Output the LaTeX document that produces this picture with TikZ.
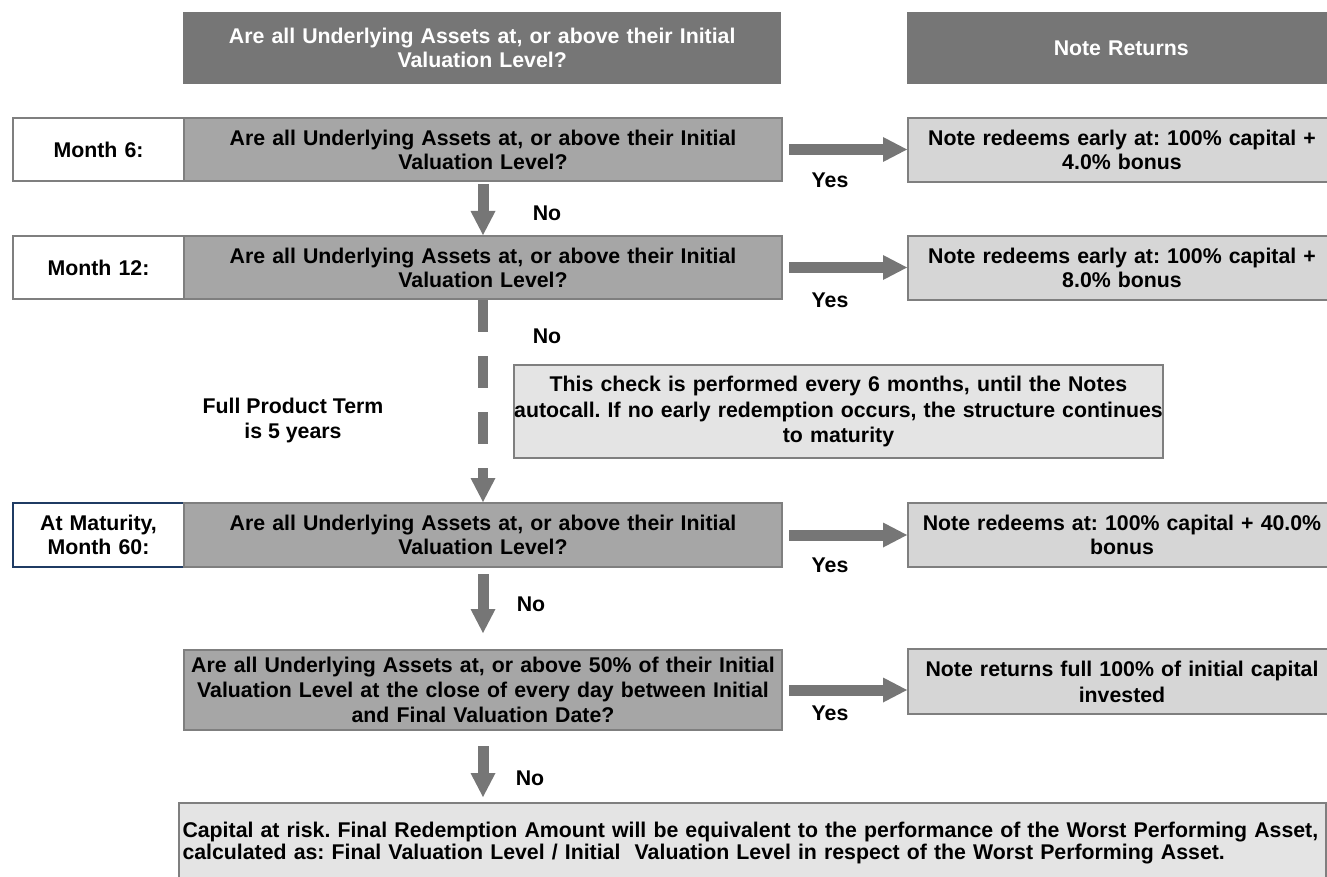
\documentclass[tikz,border=0pt]{standalone}
\usepackage{fontspec}
\setmainfont{Liberation Sans}
\usetikzlibrary{arrows.meta}
\frenchspacing
\hyphenpenalty=10000

\definecolor{headgray}{HTML}{767676}
\definecolor{askgray}{HTML}{A6A6A6}
\definecolor{paygray}{HTML}{D6D6D6}
\definecolor{infogray}{HTML}{E4E4E4}
\definecolor{edgegray}{HTML}{7F7F7F}
\definecolor{navy}{HTML}{1F3B63}

\begin{document}
\begin{tikzpicture}[x = 1pt, y = -1pt,
  txt/.style = {font=\fontsize{21.3}{24}\selectfont\bfseries, align=center, inner sep=0pt},
  kopf/.style = {txt, fill=headgray, text=white, anchor=north west, minimum height=72pt},
  monat/.style = {txt, fill=white, draw=edgegray, line width=2pt, anchor=north west, minimum width=171pt, minimum height=63pt, text width=165pt},
  frage/.style = {txt, fill=askgray, draw=edgegray, line width=2pt, anchor=north west, minimum width=598pt, minimum height=63pt, text width=592pt},
  antwort/.style = {txt, fill=paygray, draw=edgegray, line width=2pt, anchor=north west, minimum width=428pt, minimum height=64pt, text width=410pt},
  hinweis/.style = {txt, fill=infogray, draw=edgegray, line width=2pt, anchor=north west},
  lbl/.style = {txt},
  pfeil/.style = {draw=headgray, line width=11pt, -{Triangle[length=24pt, width=25pt, line width=0pt]}},
]

\useasboundingbox (0,0) rectangle (1327,877);
\clip (0,0) rectangle (1327,877);

\node[kopf, minimum width=598pt, text width=590pt] (H1) at (183,12) {Are all Underlying Assets at, or above their Initial\\Valuation Level?};
\node[kopf, minimum width=428pt, text width=410pt] (H2) at (907,12) {Note Returns};

\node[monat] (M1) at (12,117) {Month 6:};
\node[frage] (Q1) at (183,117) {Are all Underlying Assets at, or above their Initial\\Valuation Level?};
\node[antwort] (R1) at (907,117) {Note redeems early at: 100\% capital +\\4.0\% bonus};

\node[monat] (M2) at (12,235) {Month 12:};
\node[frage] (Q2) at (183,235) {Are all Underlying Assets at, or above their Initial\\Valuation Level?};
\node[antwort] (R2) at (907,235) {Note redeems early at: 100\% capital +\\8.0\% bonus};

\node[hinweis, minimum width=649pt, minimum height=93pt, text width=649pt, font=\fontsize{21.3}{25.5}\selectfont\bfseries] (I) at (513,364) {This check is performed every 6 months, until the Notes\\autocall. If no early redemption occurs, the structure continues\\to maturity};
\node[lbl, font=\fontsize{21.3}{25}\selectfont\bfseries] (T) at (293,420) {Full Product Term\\is 5 years};

\node[monat, draw=navy, minimum height=64pt] (M3) at (12,502) {At Maturity,\\Month 60:};
\node[frage, minimum height=64pt] (Q3) at (183,502) {Are all Underlying Assets at, or above their Initial\\Valuation Level?};
\node[antwort] (R3) at (907,502) {Note redeems at: 100\% capital + 40.0\%\\bonus};

\node[frage, minimum height=80pt, font=\fontsize{21.3}{25}\selectfont\bfseries] (Q4) at (183,649) {Are all Underlying Assets at, or above 50\% of their Initial\\Valuation Level at the close of every day between Initial\\and Final Valuation Date?};
\node[antwort, minimum height=65pt, font=\fontsize{21.3}{26}\selectfont\bfseries] (R4) at (907,648) {Note returns full 100\% of initial capital\\invested};

\node[hinweis, minimum width=1147pt, minimum height=80pt, text width=1140pt, align=left, font=\fontsize{21.3}{22.5}\selectfont\bfseries] (F) at (178,802) {Capital at risk. Final Redemption Amount will be equivalent to the performance of the Worst Performing Asset,\\calculated as: Final Valuation Level / Initial~ Valuation Level in respect of the Worst Performing Asset.};

\draw[pfeil, shorten <=6pt] (Q1.east) -- (Q1.east -| R1.west);
\draw[pfeil, shorten <=6pt] (Q2.east) -- (Q2.east -| R2.west);
\draw[pfeil, shorten <=6pt] (Q3.east) -- (Q3.east -| R3.west);
\draw[pfeil, shorten <=6pt] (Q4.east) -- (Q4.east -| R4.west);

\draw[pfeil, shorten <=2pt] (Q1.south) -- (Q2.north);
\draw[pfeil, line width=10pt, dash pattern=on 32pt off 24pt] (Q2.south) -- (Q3.north);
\draw[pfeil, shorten <=6pt, shorten >=16pt] (Q3.south) -- (Q4.north);
\draw[pfeil, shorten <=15pt, shorten >=5pt] (Q4.south) -- (Q4.south |- F.north);

\node[lbl] (Y1) at (830,180) {Yes};
\node[lbl] (Y2) at (830,300) {Yes};
\node[lbl] (Y3) at (830,565) {Yes};
\node[lbl] (Y4) at (830,713) {Yes};

\node[lbl] (N1) at (547,213) {No};
\node[lbl] (N2) at (547,336) {No};
\node[lbl] (N3) at (531,604) {No};
\node[lbl] (N4) at (530,778) {No};

\end{tikzpicture}
\end{document}
